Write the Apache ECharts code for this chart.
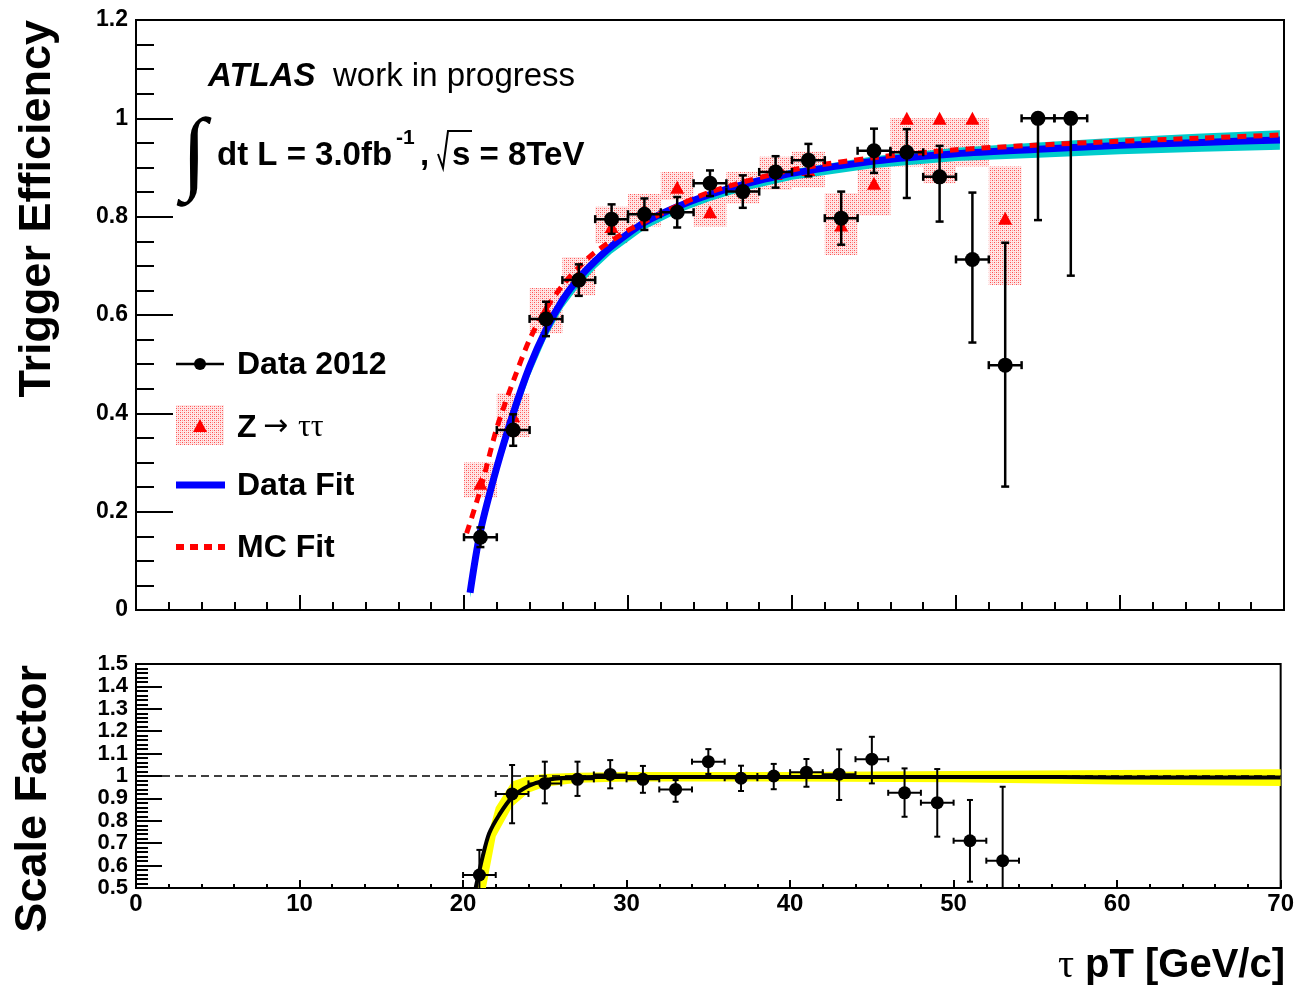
<!DOCTYPE html>
<html><head><meta charset="utf-8">
<script src="https://cdn.jsdelivr.net/npm/echarts@6/dist/echarts.min.js"></script>
<style>html,body{margin:0;padding:0;background:#fff}#c{width:1297px;height:985px}</style>
</head><body><div id="c"></div>
<script>
// ---------- data ----------
const binCenters = [21,23,25,27,29,31,33,35,37,39,41,43,45,47,49,51,53,55,57];
const binHalfWidth = 1;
const dataEff     = [0.148,0.366,0.592,0.671,0.795,0.805,0.809,0.868,0.851,0.891,0.915,0.797,0.934,0.931,0.881,0.713,0.498,1.0,1.0];
const dataErrLow  = [0.02,0.032,0.035,0.032,0.03,0.032,0.031,0.026,0.033,0.032,0.033,0.054,0.045,0.093,0.091,0.169,0.247,0.207,0.32];
const dataErrHigh = [0.02,0.032,0.035,0.032,0.03,0.032,0.031,0.026,0.033,0.032,0.033,0.054,0.045,0.047,0.063,0.136,0.249,0,0];

const mcCenters = [21,23,25,27,29,31,33,35,37,39,41,43,45,47,49,51,53];
const mcEff  = [0.258,0.395,0.61,0.68,0.78,0.812,0.86,0.81,0.86,0.888,0.896,0.783,0.868,1.0,1.0,1.0,0.797];
const mcLow  = [0.229,0.352,0.563,0.64,0.746,0.78,0.834,0.78,0.827,0.854,0.86,0.722,0.803,0.902,0.868,0.902,0.661];
const mcHigh = [0.30,0.441,0.655,0.718,0.82,0.846,0.891,0.84,0.891,0.922,0.932,0.848,0.912,1.0,1.0,1.0,0.902];

const fitX      = [20.37,21,22,23,24,25,26,27,28,29,31,33,35,37,40,45,50,55,60,65,69.75];
const dataFit   = [0.035,0.16,0.29,0.40,0.495,0.57,0.63,0.675,0.71,0.74,0.788,0.82,0.845,0.865,0.888,0.913,0.928,0.937,0.945,0.951,0.956];
const dataFitLo = [0.025,0.145,0.272,0.38,0.475,0.552,0.613,0.658,0.694,0.725,0.774,0.807,0.832,0.852,0.875,0.899,0.913,0.92,0.927,0.932,0.936];
const dataFitHi = [0.04,0.166,0.296,0.405,0.5,0.575,0.634,0.679,0.714,0.744,0.792,0.825,0.851,0.872,0.896,0.923,0.94,0.951,0.961,0.969,0.976];

const mcFitX = [20.16,21,22,23,24,25,26,27,28,30,32,35,40,45,50,57,65,69.75];
const mcFit  = [0.156,0.245,0.37,0.465,0.55,0.612,0.66,0.697,0.728,0.772,0.806,0.85,0.895,0.92,0.936,0.949,0.96,0.966];

const sfCenters = [21,23,25,27,29,31,33,35,37,39,41,43,45,47,49,51,53];
const sf        = [0.558,0.92,0.967,0.985,1.007,0.985,0.94,1.064,0.99,1.0,1.017,1.008,1.075,0.925,0.881,0.711,0.622];
const sfErrHigh = [0.112,0.129,0.097,0.079,0.064,0.06,0.042,0.056,0.056,0.054,0.059,0.111,0.1,0.109,0.15,0.182,0.33];
const sfErrLow  = [0.12,0.131,0.089,0.074,0.062,0.06,0.055,0.055,0.057,0.059,0.065,0.115,0.108,0.107,0.152,0.183,0.33];

const sfFitX = [20.77,21.2,21.6,22.2,23,24,25,26.3,28.3,35,45,56.5,60,70];
const sfFit  = [0.5,0.64,0.744,0.825,0.905,0.955,0.98,0.992,0.996,0.996,0.995,0.995,0.993,0.993];
const sfBandX  = [20.9,21.4,22,23,24,25,27,30,40,50,60,70];
const sfBandLo = [0.5,0.5,0.73,0.863,0.925,0.952,0.97,0.975,0.975,0.972,0.962,0.955];
const sfBandHi = [0.5,0.7,0.86,0.975,1.0,1.009,1.015,1.018,1.018,1.022,1.027,1.03];

const effTicks = {min:0, max:1.2, interval:0.2};
const sfTicks  = {min:0.5, max:1.5, interval:0.1};
const xTicks   = {min:0, max:70, interval:10};

// ---------- helpers ----------
const SANS = "'Liberation Sans', Arial, Helvetica, sans-serif";
const SERIF = "'Liberation Serif', 'DejaVu Serif', serif";

const pc = document.createElement('canvas'); pc.width = 4; pc.height = 4;
const g = pc.getContext('2d');
g.fillStyle = 'rgba(255,215,215,0.6)'; g.fillRect(0,0,4,4);
g.fillStyle = '#ff5050'; g.fillRect(0,0,1,1); g.fillRect(2,2,1,1);
g.fillStyle = '#ff9a9a'; g.fillRect(2,0,1,1); g.fillRect(0,2,1,1);
const dotPattern = {image: pc, repeat: 'repeat'};

function errRender(cap, lw) {
  return function (params, api) {
    const x = api.value(0), y = api.value(1), lo = api.value(2), hi = api.value(3), hw = api.value(4);
    const l = api.coord([x - hw, y]), r = api.coord([x + hw, y]);
    const st = {stroke: '#000', lineWidth: lw};
    const ch = [
      {type:'line', shape:{x1:l[0], y1:l[1], x2:r[0], y2:r[1]}, style:st},
      {type:'line', shape:{x1:l[0], y1:l[1]-cap, x2:l[0], y2:l[1]+cap}, style:st},
      {type:'line', shape:{x1:r[0], y1:r[1]-cap, x2:r[0], y2:r[1]+cap}, style:st}
    ];
    const c = api.coord([x, y]);
    if (hi > 0) {
      const t = api.coord([x, y + hi]);
      ch.push({type:'line', shape:{x1:c[0], y1:c[1], x2:t[0], y2:t[1]}, style:st});
      ch.push({type:'line', shape:{x1:t[0]-cap, y1:t[1], x2:t[0]+cap, y2:t[1]}, style:st});
    }
    if (lo > 0) {
      const b = api.coord([x, y - lo]);
      ch.push({type:'line', shape:{x1:c[0], y1:c[1], x2:b[0], y2:b[1]}, style:st});
      ch.push({type:'line', shape:{x1:b[0]-cap, y1:b[1], x2:b[0]+cap, y2:b[1]}, style:st});
    }
    return {type:'group', children: ch};
  };
}
function bandRender(xs, lo, hi, color) {
  return function (params, api) {
    const pts = [];
    for (let i = 0; i < xs.length; i++) pts.push(api.coord([xs[i], hi[i]]));
    for (let i = xs.length - 1; i >= 0; i--) pts.push(api.coord([xs[i], lo[i]]));
    return {type:'polygon', shape:{points: pts}, style:{fill: color}};
  };
}

const axisBase = {
  axisLine: {show: true, onZero: false, lineStyle: {color: '#000', width: 2}},
  splitLine: {show: false},
};

const option = {
  animation: false,
  backgroundColor: '#fff',
  grid: [
    {left: 136, top: 20, width: 1148, height: 590, show: true, borderColor: '#000', borderWidth: 2, backgroundColor: '#fff'},
    {left: 136, top: 664, width: 1148, height: 224, show: true, borderColor: '#000', borderWidth: 2, backgroundColor: '#fff'}
  ],
  xAxis: [
    Object.assign({}, axisBase, {type: 'value', gridIndex: 0, min: xTicks.min, max: xTicks.max, interval: xTicks.interval,
      axisLabel: {show: false},
      axisTick: {show: true, inside: true, length: 15, lineStyle: {color: '#000', width: 2}},
      minorTick: {show: true, splitNumber: 5, length: 8, lineStyle: {color: '#000', width: 2}}}),
    Object.assign({}, axisBase, {type: 'value', gridIndex: 1, min: xTicks.min, max: xTicks.max, interval: xTicks.interval,
      axisLabel: {show: true, color: '#000', fontFamily: SANS, fontWeight: 'bold', fontSize: 24, margin: 4},
      axisTick: {show: true, inside: true, length: 8, lineStyle: {color: '#000', width: 2}},
      minorTick: {show: true, splitNumber: 5, length: 4, lineStyle: {color: '#000', width: 2}}})
  ],
  yAxis: [
    Object.assign({}, axisBase, {type: 'value', gridIndex: 0, min: effTicks.min, max: effTicks.max, interval: effTicks.interval,
      axisLabel: {show: true, color: '#000', fontFamily: SANS, fontWeight: 'bold', fontSize: 23, margin: 8},
      axisTick: {show: true, inside: true, length: 37, lineStyle: {color: '#000', width: 2}},
      minorTick: {show: true, splitNumber: 4, length: 18, lineStyle: {color: '#000', width: 2}}}),
    Object.assign({}, axisBase, {type: 'value', gridIndex: 1, min: sfTicks.min, max: sfTicks.max, interval: sfTicks.interval,
      axisLabel: {show: true, color: '#000', fontFamily: SANS, fontWeight: 'bold', fontSize: 22, margin: 8},
      axisTick: {show: true, inside: true, length: 26, lineStyle: {color: '#000', width: 2}},
      minorTick: {show: true, splitNumber: 5, length: 12, lineStyle: {color: '#000', width: 2}}})
  ],
  series: [
    // MC boxes
    {type: 'custom', xAxisIndex: 0, yAxisIndex: 0, z: 1, clip: true,
      data: mcCenters.map((x, i) => [x, mcLow[i], mcHigh[i], binHalfWidth]),
      renderItem: function (params, api) {
        const a = api.coord([api.value(0) - api.value(3), api.value(2)]);
        const b = api.coord([api.value(0) + api.value(3), api.value(1)]);
        return {type: 'rect', shape: {x: a[0], y: a[1], width: b[0] - a[0], height: b[1] - a[1]}, style: {fill: dotPattern}};
      }},
    // Data fit band
    {type: 'custom', xAxisIndex: 0, yAxisIndex: 0, z: 2, clip: true,
      data: [[fitX[0], dataFit[0]]], renderItem: bandRender(fitX, dataFitLo, dataFitHi, '#00cccc')},
    // MC triangles
    {type: 'scatter', xAxisIndex: 0, yAxisIndex: 0, z: 3, symbol: 'triangle', symbolSize: [14, 13],
      itemStyle: {color: '#ff0000', opacity: 1}, data: mcCenters.map((x, i) => [x, mcEff[i]])},
    // Data fit line
    {type: 'line', xAxisIndex: 0, yAxisIndex: 0, z: 4, smooth: 0.3, showSymbol: false, symbol: 'none',
      lineStyle: {color: '#0000ff', width: 7}, data: fitX.map((x, i) => [x, dataFit[i]])},
    // MC fit line
    {type: 'line', xAxisIndex: 0, yAxisIndex: 0, z: 5, smooth: 0.3, showSymbol: false, symbol: 'none',
      lineStyle: {color: '#ff0000', width: 5, type: [9, 7]}, data: mcFitX.map((x, i) => [x, mcFit[i]])},
    // Data error bars
    {type: 'custom', xAxisIndex: 0, yAxisIndex: 0, z: 6, clip: true,
      data: binCenters.map((x, i) => [x, dataEff[i], dataErrLow[i], dataErrHigh[i], binHalfWidth]),
      renderItem: errRender(4, 2.5)},
    // Data markers
    {type: 'scatter', xAxisIndex: 0, yAxisIndex: 0, z: 7, symbol: 'circle', symbolSize: 15,
      itemStyle: {color: '#000', opacity: 1}, data: binCenters.map((x, i) => [x, dataEff[i]])},

    // ---- bottom panel ----
    {type: 'custom', xAxisIndex: 1, yAxisIndex: 1, z: 2, clip: true,
      data: [[sfBandX[0], sfBandLo[0]]], renderItem: bandRender(sfBandX, sfBandLo, sfBandHi, '#ffff00')},
    {type: 'line', xAxisIndex: 1, yAxisIndex: 1, z: 3, data: [], symbol: 'none',
      markLine: {silent: true, symbol: 'none', label: {show: false},
        lineStyle: {color: '#000', width: 1.5, type: [8, 5]}, data: [{yAxis: 1}]}},
    {type: 'line', xAxisIndex: 1, yAxisIndex: 1, z: 4, smooth: 0.3, showSymbol: false, symbol: 'none', clip: true,
      lineStyle: {color: '#000', width: 4}, data: sfFitX.map((x, i) => [x, sfFit[i]])},
    {type: 'custom', xAxisIndex: 1, yAxisIndex: 1, z: 6, clip: true,
      data: sfCenters.map((x, i) => [x, sf[i], sfErrLow[i], sfErrHigh[i], binHalfWidth]),
      renderItem: errRender(3, 2)},
    {type: 'scatter', xAxisIndex: 1, yAxisIndex: 1, z: 7, symbol: 'circle', symbolSize: 13,
      itemStyle: {color: '#000', opacity: 1}, data: sfCenters.map((x, i) => [x, sf[i]])}
  ],
  graphic: [
    // axis titles
    {type: 'text', x: 38, y: 20, rotation: Math.PI / 2,
      style: {text: 'Trigger Efficiency', fill: '#000', font: 'bold 45px ' + SANS, textAlign: 'right', textVerticalAlign: 'middle'}},
    {type: 'text', x: 34, y: 665, rotation: Math.PI / 2,
      style: {text: 'Scale Factor', fill: '#000', font: 'bold 45px ' + SANS, textAlign: 'right', textVerticalAlign: 'middle'}},
    {type: 'text', x: 1285, y: 966,
      style: {text: 'pT [GeV/c]', fill: '#000', font: 'bold 40px ' + SANS, textAlign: 'right', textVerticalAlign: 'middle'}},
    {type: 'text', x: 1074, y: 966,
      style: {text: 'τ', fill: '#000', font: '40px ' + SERIF, textAlign: 'right', textVerticalAlign: 'middle'}},
    // ATLAS label
    {type: 'text', x: 208, y: 77,
      style: {text: 'ATLAS', fill: '#000', font: 'italic bold 33px ' + SANS, textAlign: 'left', textVerticalAlign: 'middle'}},
    {type: 'text', x: 333, y: 77,
      style: {text: 'work in progress', fill: '#000', font: '33px ' + SANS, textAlign: 'left', textVerticalAlign: 'middle'}},
    {type: 'text', x: 194, y: 158,
      style: {text: '∫', fill: '#000', font: '92px ' + SERIF, textAlign: 'center', textVerticalAlign: 'middle'}},
    {type: 'text', x: 217, y: 156,
      style: {text: 'dt L = 3.0fb', fill: '#000', font: 'bold 33px ' + SANS, textAlign: 'left', textVerticalAlign: 'middle'}},
    {type: 'text', x: 396, y: 138,
      style: {text: '-1', fill: '#000', font: 'bold 21px ' + SANS, textAlign: 'left', textVerticalAlign: 'middle'}},
    {type: 'text', x: 420, y: 156,
      style: {text: ',', fill: '#000', font: 'bold 33px ' + SANS, textAlign: 'left', textVerticalAlign: 'middle'}},
    {type: 'polyline', shape: {points: [[438, 154], [443, 168], [448, 131], [472, 131]]}, style: {stroke: '#000', lineWidth: 2, fill: null}},
    {type: 'text', x: 452, y: 156,
      style: {text: 's = 8TeV', fill: '#000', font: 'bold 33px ' + SANS, textAlign: 'left', textVerticalAlign: 'middle'}},
    // legend
    {type: 'line', shape: {x1: 176, y1: 364, x2: 224, y2: 364}, style: {stroke: '#000', lineWidth: 2.5}},
    {type: 'circle', shape: {cx: 200, cy: 364, r: 6}, style: {fill: '#000'}},
    {type: 'text', x: 237, y: 365, style: {text: 'Data 2012', fill: '#000', font: 'bold 32px ' + SANS, textVerticalAlign: 'middle'}},
    {type: 'rect', shape: {x: 176, y: 405, width: 48, height: 40}, style: {fill: dotPattern}},
    {type: 'polygon', shape: {points: [[200, 419], [193, 432], [207, 432]]}, style: {fill: '#ff0000'}},
    {type: 'text', x: 237, y: 428, style: {text: 'Z', fill: '#000', font: 'bold 32px ' + SANS, textVerticalAlign: 'middle'}},
    {type: 'text', x: 263, y: 427, style: {text: '→', fill: '#000', font: '30px "DejaVu Sans", sans-serif', textVerticalAlign: 'middle'}},
    {type: 'text', x: 298, y: 428, style: {text: 'ττ', fill: '#000', font: '32px ' + SERIF, textVerticalAlign: 'middle'}},
    {type: 'line', shape: {x1: 176, y1: 485, x2: 225, y2: 485}, style: {stroke: '#0000ff', lineWidth: 7}},
    {type: 'text', x: 237, y: 486, style: {text: 'Data Fit', fill: '#000', font: 'bold 32px ' + SANS, textVerticalAlign: 'middle'}},
    {type: 'line', shape: {x1: 176, y1: 547, x2: 225, y2: 547}, style: {stroke: '#ff0000', lineWidth: 6, lineDash: [8, 6]}},
    {type: 'text', x: 237, y: 548, style: {text: 'MC Fit', fill: '#000', font: 'bold 32px ' + SANS, textVerticalAlign: 'middle'}}
  ]
};

const chart = echarts.init(document.getElementById('c'), null, {renderer: 'canvas'});
chart.setOption(option);
</script>
</body></html>
